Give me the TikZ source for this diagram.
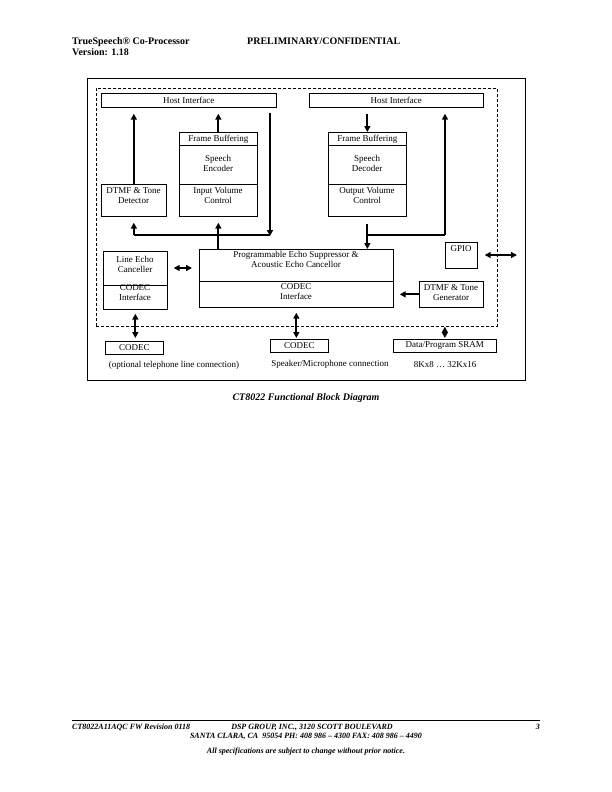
\documentclass[tikz,border=0pt]{standalone}
\usepackage{fontspec}
\setmainfont{Liberation Serif}
\usetikzlibrary{arrows.meta}
\begin{document}
\begin{tikzpicture}[x=1pt,y=-1pt,
  box/.style={draw, line width=0.7pt, inner sep=0pt, anchor=north west},
  lbl/.style={font=\fontsize{9}{10}\selectfont, align=center, inner sep=0pt},
  arr/.style={line width=1.9pt, -{Triangle[length=6pt,width=6pt]}},
  darr/.style={line width=1.9pt, {Triangle[length=6pt,width=6pt]}-{Triangle[length=6pt,width=6pt]}},
  ln/.style={line width=1.9pt},
  hdr/.style={font=\bfseries\fontsize{10}{12}\selectfont, inner sep=0pt, anchor=base west},
  ftr/.style={font=\bfseries\itshape\fontsize{8}{10}\selectfont, inner sep=0pt, anchor=base},
]
\useasboundingbox (0,0) rectangle (612,792);

% header
\node[hdr] (h1) at (72,45) {TrueSpeech® Co-Processor};
\node[hdr] (h2) at (72,56) {Version: 1.18};
\node[hdr] (h3) at (247,45) {PRELIMINARY/CONFIDENTIAL};

% frames
\node[box, minimum width=438pt, minimum height=302pt] (outer) at (87,78) {};
\node[box, dash pattern=on 3pt off 2pt, minimum width=401pt, minimum height=238pt] (dash) at (96,88) {};

% host interfaces
\node[box, minimum width=175pt, minimum height=14pt] (hil) at (101,93) {};
\node[lbl] (hilt) at (hil.center) {Host Interface};
\node[box, minimum width=174pt, minimum height=14pt] (hir) at (309,93) {};
\node[lbl] (hirt) at (hir.center) {Host Interface};

% encoder column
\node[box, minimum width=78pt, minimum height=13pt] (fb1) at (179,132) {};
\node[lbl] (fb1t) at (fb1.center) {Frame Buffering};
\node[box, minimum width=78pt, minimum height=39pt] (enc) at (179,145) {};
\node[lbl] (enct) at (218,163.5) {Speech\\Encoder};
\node[box, minimum width=78pt, minimum height=32pt] (ivc) at (179,184) {};
\node[lbl] (ivct) at (218,195.5) {Input Volume\\Control};

\node[box, minimum width=65pt, minimum height=32pt] (dtd) at (101,184) {};
\node[lbl] (dtdt) at (133.5,195.5) {DTMF \& Tone\\Detector};

% decoder column
\node[box, minimum width=78pt, minimum height=13pt] (fb2) at (328,132) {};
\node[lbl] (fb2t) at (fb2.center) {Frame Buffering};
\node[box, minimum width=78pt, minimum height=39pt] (dec) at (328,145) {};
\node[lbl] (dect) at (367,163.5) {Speech\\Decoder};
\node[box, minimum width=78pt, minimum height=32pt] (ovc) at (328,184) {};
\node[lbl] (ovct) at (367,195.5) {Output Volume\\Control};

% line echo canceller
\node[box, minimum width=64pt, minimum height=34pt] (lec1) at (103,251) {};
\node[lbl] (lec1t) at (135,264) {Line Echo\\Canceller};
\node[box, minimum width=64pt, minimum height=24pt] (lec2) at (103,285) {};
\node[lbl] (lec2t) at (135,293) {CODEC\\Interface};

% echo suppressor
\node[box, minimum width=194pt, minimum height=32pt] (pes1) at (199,249) {};
\node[lbl] (pes1t) at (296,259.5) {Programmable Echo Suppressor \&\\Acoustic Echo Cancellor};
\node[box, minimum width=194pt, minimum height=26pt] (pes2) at (199,281) {};
\node[lbl] (pes2t) at (296,291.5) {CODEC\\Interface};

% GPIO and DTMF generator
\node[box, minimum width=32pt, minimum height=26pt] (gpio) at (445,242) {};
\node[lbl] (gpiot) at (461,248.5) {GPIO};
\node[box, minimum width=64pt, minimum height=26pt] (dtg) at (419,281) {};
\node[lbl] (dtgt) at (451,292.5) {DTMF \& Tone\\Generator};

% external parts
\node[box, minimum width=58pt, minimum height=13pt] (c1) at (105,341) {};
\node[lbl] (c1t) at (c1.center) {CODEC};
\node[box, minimum width=58pt, minimum height=13pt] (c2) at (270,339) {};
\node[lbl] (c2t) at (c2.center) {CODEC};
\node[box, minimum width=103pt, minimum height=13pt] (sram) at (393,339) {};
\node[lbl] (sramt) at (sram.center) {Data/Program SRAM};

\node[lbl] (n1) at (174,365) {(optional telephone line connection)};
\node[lbl] (n2) at (330,364) {Speaker/Microphone connection};
\node[lbl] (n3) at (445,365) {8Kx8 … 32Kx16};

% connectors, top left
\draw[arr, shorten >=6pt] (dtd.north) -- (dtd.north |- hil.south);
\draw[arr, shorten >=6pt] (fb1.north) -- (fb1.north |- hil.south);
\coordinate (lt) at (270,113);
\coordinate (lj) at (270,235);
\draw[ln] (dtd.south |- lj) -- (lj);
\draw[arr] (lt) -- ([yshift=-1pt]lj);
\draw[arr, shorten >=6pt] (dtd.south |- lj) -- (dtd.south);
\draw[arr, shorten >=6pt] (ivc.south |- lj) -- (ivc.south);
\draw[ln] (ivc.south |- lj) -- (ivc.south |- pes1.north);

% connectors, top right
\draw[arr, shorten <=6pt] (fb2.north |- hir.south) -- (fb2.north);
\coordinate (rj) at (445,235);
\draw[arr, shorten <=7pt] (ovc.south) -- (ovc.south |- pes1.north);
\draw[ln] (ovc.south |- rj) -- (rj);
\draw[arr, shorten >=6pt] (rj) -- (rj |- hir.south);

% middle connectors
\draw[darr, shorten <=6pt, shorten >=7pt] (lec1.east |- 0,268) -- (pes1.west |- 0,268);
\draw[arr, shorten >=6pt] (dtg.west) -- (dtg.west -| pes2.east);
\coordinate (gpr) at (517,255);
\draw[darr, shorten <=7pt] (gpio.east |- gpr) -- (gpr);

% bottom connectors
\draw[darr, shorten <=4pt, shorten >=3pt] (lec2.south) -- (lec2.south |- c1.north);
\draw[darr, shorten <=5pt, shorten >=1pt] (pes2.south) -- (pes2.south |- c2.north);
\draw[darr, shorten >=1pt] (sram.north |- dash.south) -- (sram.north);

% caption
\node[font=\bfseries\itshape\fontsize{10}{12}\selectfont, inner sep=0pt] (cap) at (306,398) {CT8022 Functional Block Diagram};

% footer
\coordinate (fl) at (72,720);
\coordinate (fr) at (540,720);
\draw[line width=0.6pt] (fl) -- (fr);
\node[ftr, anchor=base west] (f1) at (72,729) {CT8022A11AQC FW Revision 0118};
\node[ftr] (f2) at (312,729) {DSP GROUP, INC., 3120 SCOTT BOULEVARD};
\node[ftr, anchor=base east] (f3) at (540,729) {3};
\node[ftr] (f4) at (306,738) {SANTA CLARA, CA\ \ 95054 PH: 408 986 – 4300 FAX: 408 986 – 4490};
\node[ftr] (f5) at (306,753) {All specifications are subject to change without prior notice.};
\end{tikzpicture}
\end{document}
